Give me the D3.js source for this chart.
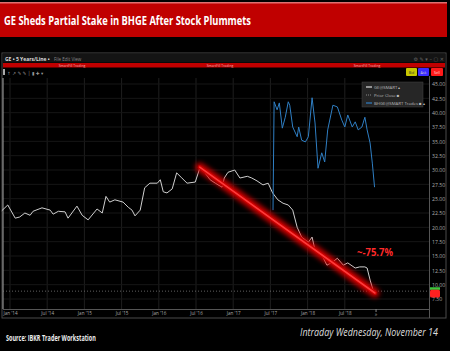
<!DOCTYPE html>
<html><head><meta charset="utf-8">
<script src="https://cdn.jsdelivr.net/npm/d3@7"></script>
<style>
html,body{margin:0;padding:0;background:#000;}
svg{display:block;}
</style></head>
<body>
<svg id="chart" width="450" height="351"></svg>
<script>
// ---------- DATA ----------
const title = "GE Sheds Partial Stake in BHGE After Stock Plummets";
const xTickValues = [2014, 2014.5, 2015, 2015.5, 2016, 2016.5, 2017, 2017.5, 2018, 2018.5];
const xTickLabels = ["Jan '14","Jul '14","Jan '15","Jul '15","Jan '16","Jul '16","Jan '17","Jul '17","Jan '18","Jul '18"];
const yTickValues = [45, 42.5, 40, 37.5, 35, 32.5, 30, 27.5, 25, 22.5, 20, 17.5, 15, 12.5, 10, 7.5];

const geDates = [2013.89,2013.97,2014.07,2014.13,2014.20,2014.27,2014.31,2014.43,2014.54,2014.58,2014.65,2014.74,2014.78,2014.90,2014.97,2015.05,2015.17,2015.24,2015.29,2015.34,2015.41,2015.52,2015.59,2015.64,2015.68,2015.75,2015.81,2015.88,2015.98,2016.02,2016.06,2016.11,2016.18,2016.24,2016.31,2016.38,2016.49,2016.55,2016.62,2016.69,2016.76,2016.85,2016.88,2016.93,2017.02,2017.09,2017.19,2017.25,2017.32,2017.40,2017.47,2017.53,2017.60,2017.67,2017.74,2017.80,2017.86,2017.92,2018.01,2018.06,2018.10,2018.19,2018.26,2018.33,2018.40,2018.48,2018.54,2018.64,2018.70,2018.77,2018.80,2018.84,2018.88];
const geValues = [22.9,23.9,21.6,21.8,22.5,22.1,22.8,23.4,23.0,22.3,22.8,22.7,21.6,23.7,22.1,21.3,23.2,22.5,25.4,24.4,24.8,24.4,23.5,23.0,22.0,23.0,26.9,27.7,27.7,28.3,26.2,26.0,26.7,29.5,28.6,27.7,27.9,30.3,29.5,28.3,27.7,27.0,28.6,29.6,30.0,28.6,28.9,28.6,28.1,27.4,27.7,26.0,24.8,24.2,23.9,23.0,20.0,18.3,17.4,18.3,16.0,15.2,13.4,13.9,14.6,13.4,13.8,12.9,13.1,13.1,12.9,10.8,9.05];

const bhgeDates = [2017.535,2017.55,2017.59,2017.62,2017.66,2017.70,2017.74,2017.76,2017.80,2017.86,2017.88,2017.92,2017.97,2018.01,2018.06,2018.10,2018.14,2018.19,2018.23,2018.27,2018.34,2018.40,2018.46,2018.50,2018.54,2018.60,2018.64,2018.68,2018.73,2018.77,2018.80,2018.84,2018.87,2018.90];
const bhgeValues = [23.0,41.9,40.5,41.7,37.3,39.2,41.9,41.3,37.5,35.8,37.5,35.2,34.9,35.8,42.6,38.2,30.3,33.0,31.4,37.0,41.3,41.0,38.7,37.5,39.6,37.5,38.4,37.0,37.5,39.2,37.0,34.7,31.2,27.0];

const priorClose = 8.87;
const trendDates = [2016.55, 2018.905];
const trendValues = [30.5, 8.55];
const changeLabel = "~-75.7%";
const legendLabels = ["GE@SMART \u25B4", "Prior Close \u25A0", "BHGE@SMART Trades \u25A0 \u25B4"];

// ---------- CHART ----------
const svg = d3.select("#chart");
const plotL = 3, plotR = 429, plotT = 78, plotB = 309;
const x = d3.scaleLinear().domain([2014, 2018.5]).range([10, 344.8]);
const y = d3.scaleLinear().domain([7.5, 45]).range([299, 84]);

// fit a text horizontally to a target width by scaling (condensed look)
function fitText(sel, x0, y0, width, anchor) {
  const w = sel.node().getComputedTextLength();
  const s = width / w;
  const tx = anchor === "end" ? x0 - width : x0;
  sel.attr("x", 0).attr("y", 0).attr("text-anchor", "start")
     .attr("transform", `translate(${tx},${y0}) scale(${s},1)`);
}

// title bar
svg.append("rect").attr("x",0).attr("y",3).attr("width",447).attr("height",34).attr("fill","#c00000");
svg.append("rect").attr("x",0).attr("y",2).attr("width",447).attr("height",1.5).attr("fill","#e07070");
const tt = svg.append("text").text(title)
  .attr("fill","#fff").attr("font-family","Open Sans, sans-serif").attr("font-weight","bold")
  .attr("font-size",11.5);
fitText(tt, 4, 25, 247);

// window frame
svg.append("rect").attr("x",2).attr("y",53).attr("width",444).attr("height",265)
  .attr("fill","#000").attr("stroke","#4a4a4a").attr("stroke-width",1);
svg.append("rect").attr("x",2.5).attr("y",53.5).attr("width",443).attr("height",9).attr("fill","#141414");

// toolbar text
svg.append("text").attr("x",5).attr("y",60.5).text("GE \u2022 5 Years/Line \u2022")
  .attr("fill","#ddd").attr("font-family","Open Sans, sans-serif").attr("font-weight","bold").attr("font-size",5);
svg.append("text").attr("x",54).attr("y",60.5).text("File   Edit   View")
  .attr("fill","#888").attr("font-family","Open Sans, sans-serif").attr("font-size",4.5);
svg.append("text").attr("x",444).attr("y",60.5).text("\u2699 \u270E \u25BE   \u2013 \u25A2 \u2715").attr("text-anchor","end")
  .attr("fill","#666").attr("font-family","DejaVu Sans, sans-serif").attr("font-size",5);

// red strip
svg.append("rect").attr("x",3).attr("y",63).attr("width",442).attr("height",4.5).attr("fill","#c00000");
[72, 220, 367].forEach(cx => svg.append("text").attr("x",cx).attr("y",66.6).attr("text-anchor","middle")
  .text("SmartFill Trading").attr("fill","#f4b0b0").attr("font-family","Open Sans, sans-serif").attr("font-size",3.4));

// icons row
svg.append("rect").attr("x",3).attr("y",69).attr("width",2).attr("height",6).attr("fill","#aaa");
svg.append("text").attr("x",7).attr("y",74.5).text("\u2191 \u2197 \u270E \u270E \u2502 \u25AE \u271A \u25BE")
  .attr("fill","#999").attr("font-family","DejaVu Sans, sans-serif").attr("font-size",4.5);

// buttons
const btns = [{x:406,w:11,c:"#c8c800",t:"Bid",tc:"#333"},{x:418,w:11,c:"#3a2cff",t:"Ask",tc:"#ccc"},{x:431,w:12,c:"#ff1a1a",t:"Sell",tc:"#fdd"}];
btns.forEach(b => {
  svg.append("rect").attr("x",b.x).attr("y",68).attr("width",b.w).attr("height",8).attr("rx",1).attr("fill",b.c);
  svg.append("text").attr("x",b.x+b.w/2).attr("y",73.5).attr("text-anchor","middle").text(b.t)
    .attr("fill",b.tc).attr("font-family","Open Sans, sans-serif").attr("font-size",3.6);
});

// gridlines
const g = svg.append("g");
g.selectAll("line.vg").data(xTickValues).join("line").attr("class","vg")
  .attr("x1",d=>x(d)).attr("x2",d=>x(d)).attr("y1",plotT).attr("y2",plotB)
  .attr("stroke","#1e1e1e").attr("stroke-width",1);
g.selectAll("line.hg").data(yTickValues).join("line").attr("class","hg")
  .attr("x1",plotL).attr("x2",plotR).attr("y1",d=>y(d)).attr("y2",d=>y(d))
  .attr("stroke","#161616").attr("stroke-width",1);

// plot borders
svg.append("line").attr("x1",plotL).attr("x2",plotL).attr("y1",plotT).attr("y2",plotB).attr("stroke","#aaa").attr("stroke-width",1);
svg.append("line").attr("x1",plotL).attr("x2",plotR).attr("y1",plotB+0.5).attr("y2",plotB+0.5).attr("stroke","#555");
svg.append("line").attr("x1",plotR+0.5).attr("x2",plotR+0.5).attr("y1",plotT-2).attr("y2",318).attr("stroke","#555");

// prior close dotted
svg.append("line").attr("x1",plotL).attr("x2",plotR).attr("y1",y(priorClose)).attr("y2",y(priorClose))
  .attr("stroke","#888").attr("stroke-width",0.7).attr("stroke-dasharray","1,2");

// x axis
const xAxis = d3.axisBottom(x).tickValues(xTickValues).tickSize(0).tickPadding(0)
  .tickFormat((d,i)=>xTickLabels[i]);
const xa = svg.append("g").attr("transform",`translate(0,${plotB+6})`).call(xAxis);
xa.select(".domain").remove();
xa.selectAll("text").attr("fill","#aaa").attr("font-family","Open Sans, sans-serif").attr("font-size",4.6).attr("dy","0");
svg.append("line").attr("x1",x(2018.92)).attr("x2",x(2018.92)).attr("y1",plotB).attr("y2",plotB+3).attr("stroke","#888");
svg.append("text").attr("x",x(2018.92)).attr("y",plotB+7).attr("text-anchor","middle").text("\u00BB")
  .attr("fill","#aaa").attr("font-family","Open Sans, sans-serif").attr("font-size",5);

// y axis
const yAxis = d3.axisRight(y).tickValues(yTickValues).tickSize(0).tickPadding(0).tickFormat(d3.format(".2f"));
const ya = svg.append("g").attr("transform",`translate(${plotR+3},0)`).call(yAxis);
ya.select(".domain").remove();
ya.selectAll("text").attr("fill","#aaa").attr("font-family","Open Sans, sans-serif").attr("font-size",5.2);

// lines
const geData = geDates.map((d,i)=>[d, geValues[i]]);
const bhgeData = bhgeDates.map((d,i)=>[d, bhgeValues[i]]);
const line = d3.line().x(d=>x(d[0])).y(d=>y(d[1]));
svg.append("path").datum(geData).attr("d",line).attr("fill","none").attr("stroke","#cfcfcf").attr("stroke-width",1);
svg.append("path").datum(bhgeData).attr("d",line).attr("fill","none").attr("stroke","#2f7fc4").attr("stroke-width",1);

// trend line with glow
const defs = svg.append("defs");
const f = defs.append("filter").attr("id","glow").attr("x","-20%").attr("y","-20%").attr("width","140%").attr("height","140%");
f.append("feGaussianBlur").attr("stdDeviation",2.4);
const trendData = trendDates.map((d,i)=>[d, trendValues[i]]);
svg.append("path").datum(trendData).attr("d",line).attr("stroke","#e00000").attr("stroke-width",9)
  .attr("stroke-linecap","round").attr("opacity",0.9).attr("filter","url(#glow)");
svg.append("path").datum(trendData).attr("d",line).attr("stroke","#c80000").attr("stroke-width",4).attr("stroke-linecap","round");
svg.append("path").datum(trendData).attr("d",line).attr("stroke","#ff3a3a").attr("stroke-width",1.6).attr("stroke-linecap","round");

// change label
const cl = svg.append("text").text(changeLabel)
  .attr("fill","#ff2a2a").attr("font-family","Open Sans, sans-serif").attr("font-weight","bold")
  .attr("font-size",11);
fitText(cl, 357, 256, 36);

// price marker
svg.append("rect").attr("x",430).attr("y",y(9.55)).attr("width",10).attr("height",y(9.1)-y(9.55)).attr("fill","#3ec43e");
svg.append("rect").attr("x",430).attr("y",y(9.1)).attr("width",10).attr("height",y(7.75)-y(9.1)).attr("rx",1.5).attr("fill","#ff2020");

// legend
const lg = svg.append("g");
lg.append("rect").attr("x",362).attr("y",82).attr("width",61).attr("height",25).attr("fill","#262626").attr("stroke","#444").attr("stroke-width",0.5);
const legendColors = ["#ddd","#888","#2f7fc4"];
legendLabels.forEach((t,i)=>{
  const yy = 87 + i*8;
  lg.append("line").attr("x1",366).attr("x2",372).attr("y1",yy).attr("y2",yy).attr("stroke",legendColors[i])
    .attr("stroke-width",1.2).attr("stroke-dasharray", i===1 ? "1,1" : null);
  lg.append("text").attr("x",374).attr("y",yy+1.6).text(t).attr("fill","#bbb")
    .attr("font-family","Open Sans, sans-serif").attr("font-size",4.3);
});

// footer
const src = svg.append("text").text("Source: IBKR Trader Workstation")
  .attr("fill","#eee").attr("font-family","Open Sans, sans-serif").attr("font-weight","bold")
  .attr("font-size",8);
fitText(src, 6, 341, 90);
const intr = svg.append("text").text("Intraday Wednesday, November 14")
  .attr("fill","#ddd").attr("font-family","Open Sans, sans-serif").attr("font-style","italic")
  .attr("font-size",11.5);
fitText(intr, 438, 336, 138, "end");
</script>
</body></html>
